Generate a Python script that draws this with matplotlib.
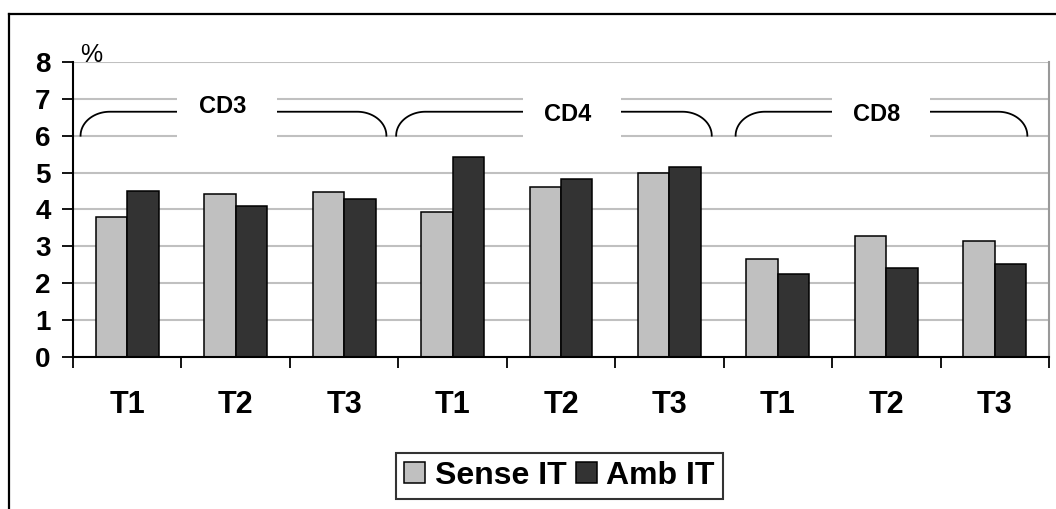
import numpy as np
import matplotlib.pyplot as plt
from matplotlib.lines import Line2D
from matplotlib.patches import Rectangle

plt.rcParams['font.family'] = ['Liberation Sans', 'DejaVu Sans']

# values (%) per time point, grouped CD3 / CD4 / CD8
time_labels = ['T1', 'T2', 'T3', 'T1', 'T2', 'T3', 'T1', 'T2', 'T3']
sense_it = [3.78, 4.43, 4.48, 3.94, 4.6, 4.98, 2.64, 3.29, 3.13]
amb_it = [4.49, 4.1, 4.27, 5.41, 4.82, 5.15, 2.24, 2.41, 2.53]
groups = ['CD3', 'CD4', 'CD8']
group_spans = [(-0.43, 2.39), (2.48, 5.39), (5.61, 8.30)]
label_gaps = [(0.46, 1.38), (3.65, 4.55), (6.50, 7.40)]
label_heights = [6.8, 6.57, 6.57]

fig = plt.figure(figsize=(10.56, 5.09), dpi=100)
ax = fig.add_axes([0.0691, 0.2992, 0.9243, 0.579])

x = np.arange(len(time_labels))
w = 0.29
ax.bar(x - w / 2, sense_it, w, color='#c0c0c0', edgecolor='black', linewidth=1.1,
       label='Sense IT', zorder=2)
ax.bar(x + w / 2, amb_it, w, color='#333333', edgecolor='black', linewidth=1.1,
       label='Amb IT', zorder=2)

ax.set_xlim(-0.5, len(time_labels) - 0.5)
ax.set_ylim(0, 8)
ax.set_yticks(range(9))
ax.yaxis.grid(True, color='#c0c0c0', linewidth=1.5, zorder=0)
ax.set_axisbelow(True)

ax.set_xticks(x)
ax.set_xticklabels(time_labels, fontsize=22, fontweight='bold')
ax.set_xticks(np.arange(-0.5, len(time_labels)), minor=True)
ax.tick_params(axis='x', which='major', length=0, pad=24)
ax.tick_params(axis='x', which='minor', length=8, width=1.3, direction='out')
ax.tick_params(axis='y', length=8, width=1.3, pad=8, labelsize=20)
for t in ax.get_yticklabels():
    t.set_fontweight('bold')

for s in ['left', 'bottom']:
    ax.spines[s].set_linewidth(1.5)
    ax.spines[s].set_color('black')
ax.spines['top'].set_visible(False)
ax.spines['right'].set_color('#999999')
ax.spines['right'].set_linewidth(1.5)

# group brackets with white label boxes
r = 0.27
t = np.linspace(0, np.pi / 2, 30)
for name, (x0, x1), (g0, g1), ly in zip(groups, group_spans, label_gaps, label_heights):
    lx = x0 + r - r * np.cos(t)
    rx = x1 - r + r * np.cos(t)
    yy = 6 + 0.65 * np.sin(t)
    bx = np.concatenate([lx, rx[::-1]])
    by = np.concatenate([yy, yy[::-1]])
    ax.plot(bx, by, color='black', linewidth=1.3, zorder=3)
    ax.add_patch(Rectangle((g0, 5.8), g1 - g0, 1.45, facecolor='white',
                           edgecolor='none', zorder=4))
    ax.text((g0 + g1) / 2 - 0.04, ly, name, ha='center', va='center', fontsize=17,
            fontweight='bold', zorder=5)

ax.text(0.007, 8.2, '%', fontsize=18, ha='left', va='center',
        transform=ax.get_yaxis_transform(), zorder=5)

leg = ax.legend(loc='upper center', bbox_to_anchor=(0.530, 0.110),
                bbox_transform=fig.transFigure, ncol=2, frameon=True,
                fancybox=False, prop={'size': 23, 'weight': 'bold'},
                handlelength=0.65, handleheight=0.65, handletextpad=0.3,
                columnspacing=0.3, borderpad=0.25, borderaxespad=0)
leg.get_frame().set_edgecolor('black')
leg.get_frame().set_linewidth(1.5)

# outer chart frame
fig.add_artist(Line2D([9 / 1056, 9 / 1056], [0, 1 - 14 / 509], color='black',
                      linewidth=1.6, transform=fig.transFigure))
fig.add_artist(Line2D([9 / 1056, 1], [1 - 14 / 509, 1 - 14 / 509], color='black',
                      linewidth=1.6, transform=fig.transFigure))

fig.savefig('out.png', dpi=100)
